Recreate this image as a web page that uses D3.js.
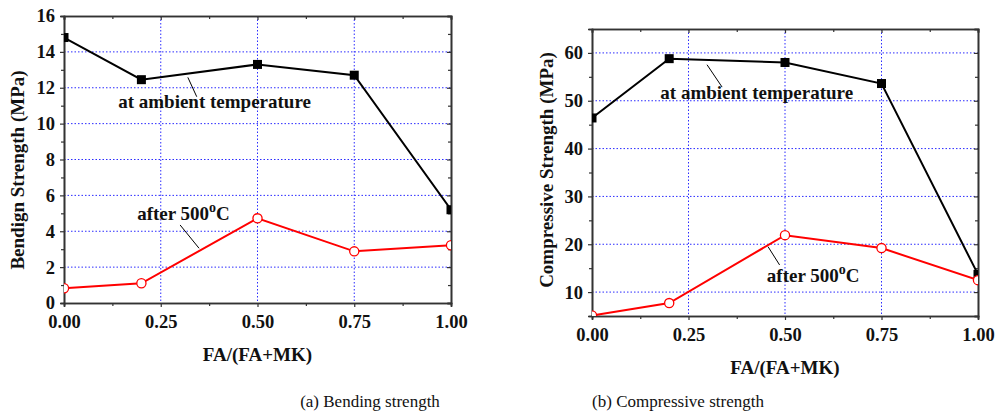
<!DOCTYPE html>
<html>
<head>
<meta charset="utf-8">
<script src="https://cdn.jsdelivr.net/npm/d3@7"></script>
<style>
  body { margin: 0; background: #fff; }
  text { font-family: "Liberation Serif", "Times New Roman", serif; }
</style>
</head>
<body>
<svg id="chart" width="996" height="412"></svg>
<script>
// data
const fraction = [0, 0.2, 0.5, 0.75, 1.0];
const bendAmbient = [14.8, 12.45, 13.3, 12.7, 5.2];
const bendAfter = [0.82, 1.1, 4.72, 2.88, 3.22];
const compAmbient = [46.4, 58.8, 58.0, 53.6, 13.7];
const compAfter = [5.1, 7.7, 21.9, 19.2, 12.5];

const xTicks = [0, 0.25, 0.5, 0.75, 1.0];
const xMinor = [0.125, 0.375, 0.625, 0.875];
const bendTicks = [0, 2, 4, 6, 8, 10, 12, 14, 16];
const bendMinor = [1, 3, 5, 7, 9, 11, 13, 15];
const compTicks = [10, 20, 30, 40, 50, 60];
const compMinor = [15, 25, 35, 45, 55];

const svg = d3.select('#chart');
svg.append('rect').attr('width', 996).attr('height', 412).attr('fill', '#fff');

function drawPanel(p) {
  const x = d3.scaleLinear().domain([0, 1]).range([p.left, p.right]);
  const y = d3.scaleLinear().domain(p.yDomain).range([p.bottom, p.top]);
  const g = svg.append('g');

  // clip for the plot area (edge markers get cut in half)
  const clipId = 'clip-' + p.id;
  svg.append('clipPath').attr('id', clipId)
    .append('rect')
    .attr('x', p.left).attr('y', p.top)
    .attr('width', p.right - p.left).attr('height', p.bottom - p.top);

  // blue dotted grid
  const grid = g.append('g')
    .attr('stroke', '#2b2bff').attr('stroke-width', 1)
    .attr('stroke-dasharray', '1.5,2');
  grid.selectAll('.gx').data(xTicks.slice(1, -1)).enter().append('line')
    .attr('x1', d => x(d)).attr('x2', d => x(d))
    .attr('y1', p.top).attr('y2', p.bottom);
  grid.selectAll('.gy').data(p.yTicks.filter(d => d > p.yDomain[0] && d < p.yDomain[1])).enter().append('line')
    .attr('x1', p.left).attr('x2', p.right)
    .attr('y1', d => y(d)).attr('y2', d => y(d));

  // axes: bottom/left with labels and outward ticks, top/right mirrored inward
  const axisColor = '#333';
  g.append('g').attr('transform', 'translate(0,' + p.bottom + ')')
    .call(d3.axisBottom(x).tickValues(xTicks).tickFormat(d3.format('.2f')).tickSize(4).tickPadding(8));
  g.append('g').attr('transform', 'translate(0,' + p.bottom + ')')
    .call(d3.axisBottom(x).tickValues(xMinor).tickFormat('').tickSize(3));
  g.append('g').attr('transform', 'translate(' + p.left + ',0)')
    .call(d3.axisLeft(y).tickValues(p.yTicks).tickSize(4).tickPadding(5));
  g.append('g').attr('transform', 'translate(' + p.left + ',0)')
    .call(d3.axisLeft(y).tickValues(p.yMinor).tickFormat('').tickSize(3));
  g.append('g').attr('transform', 'translate(0,' + p.top + ')')
    .call(d3.axisTop(x).tickValues(xTicks).tickFormat('').tickSize(-4));
  g.append('g').attr('transform', 'translate(0,' + p.top + ')')
    .call(d3.axisTop(x).tickValues(xMinor).tickFormat('').tickSize(-3));
  g.append('g').attr('transform', 'translate(' + p.right + ',0)')
    .call(d3.axisRight(y).tickValues(p.yTicks).tickFormat('').tickSize(-4));
  g.append('g').attr('transform', 'translate(' + p.right + ',0)')
    .call(d3.axisRight(y).tickValues(p.yMinor).tickFormat('').tickSize(-3));

  g.selectAll('.domain').attr('stroke', axisColor).attr('stroke-width', 1.6);
  g.selectAll('.tick line').attr('stroke', axisColor).attr('stroke-width', 1.2);
  g.selectAll('.tick text')
    .attr('fill', '#111').attr('font-size', 18.5).attr('font-weight', 'bold')
    .attr('font-family', '"Liberation Serif", serif');

  // series
  const plot = g.append('g').attr('clip-path', 'url(#' + clipId + ')');
  const line = d3.line().x((d, i) => x(fraction[i])).y(d => y(d));

  plot.append('path').datum(p.ambient)
    .attr('d', line).attr('fill', 'none').attr('stroke', '#000').attr('stroke-width', 2);
  plot.append('path').datum(p.after)
    .attr('d', line).attr('fill', 'none').attr('stroke', '#ff0000').attr('stroke-width', 2);

  plot.selectAll('.sq').data(p.ambient).enter().append('rect')
    .attr('x', (d, i) => x(fraction[i]) - 4.5).attr('y', d => y(d) - 4.5)
    .attr('width', 9).attr('height', 9).attr('fill', '#000');
  plot.selectAll('.ci').data(p.after).enter().append('circle')
    .attr('cx', (d, i) => x(fraction[i])).attr('cy', d => y(d))
    .attr('r', 4.6).attr('fill', '#fff').attr('stroke', '#ff0000').attr('stroke-width', 1.3);

  // annotations
  g.append('text')
    .attr('x', x(p.ambientLabel[0])).attr('y', y(p.ambientLabel[1]))
    .attr('font-size', 19).attr('font-weight', 'bold').attr('fill', '#111')
    .text('at ambient temperature');
  const after = g.append('text')
    .attr('x', x(p.afterLabel[0])).attr('y', y(p.afterLabel[1]))
    .attr('font-size', 19).attr('font-weight', 'bold').attr('fill', '#111');
  after.append('tspan').text('after 500');
  after.append('tspan').attr('font-size', 14).attr('dy', -8).text('o');
  after.append('tspan').attr('dy', 8).text('C');

  [p.ambientLeader, p.afterLeader].forEach(l => {
    g.append('line')
      .attr('x1', x(l[0])).attr('y1', y(l[1]))
      .attr('x2', x(l[2])).attr('y2', y(l[3]))
      .attr('stroke', '#000').attr('stroke-width', 1);
  });

  // axis titles
  g.append('text')
    .attr('x', (p.left + p.right) / 2).attr('y', p.bottom + 58)
    .attr('text-anchor', 'middle').attr('font-size', 19).attr('font-weight', 'bold').attr('fill', '#111')
    .text('FA/(FA+MK)');
  g.append('text')
    .attr('transform', 'translate(' + p.yTitleX + ',' + p.yTitleY + ') rotate(-90)')
    .attr('text-anchor', 'middle').attr('font-size', 19).attr('font-weight', 'bold').attr('fill', '#111')
    .text(p.yTitle);

  // caption
  g.append('text')
    .attr('x', p.captionX).attr('y', 407)
    .attr('text-anchor', 'middle').attr('font-size', 17).attr('fill', '#111')
    .text(p.caption);
}

drawPanel({
  id: 'a', left: 64, right: 451, top: 16, bottom: 303,
  yDomain: [0, 16], yTicks: bendTicks, yMinor: bendMinor,
  ambient: bendAmbient, after: bendAfter,
  ambientLabel: [0.14, 10.87], ambientLeader: [0.32, 12.58, 0.343, 11.5],
  afterLabel: [0.189, 4.6], afterLeader: [0.30, 4.35, 0.349, 3.05],
  yTitle: 'Bendign Strength (MPa)', yTitleX: 24, yTitleY: 170,
  caption: '(a) Bending strength', captionX: 370
});

drawPanel({
  id: 'b', left: 592, right: 978, top: 29, bottom: 316,
  yDomain: [5, 65], yTicks: compTicks, yMinor: compMinor,
  ambient: compAmbient, after: compAfter,
  ambientLabel: [0.177, 50.35], ambientLeader: [0.298, 57.53, 0.337, 52.86],
  afterLabel: [0.453, 12.18], afterLeader: [0.456, 19.5, 0.486, 15.67],
  yTitle: 'Compressive Strength (MPa)', yTitleX: 553, yTitleY: 170,
  caption: '(b) Compressive strength', captionX: 678
});
</script>
</body>
</html>
